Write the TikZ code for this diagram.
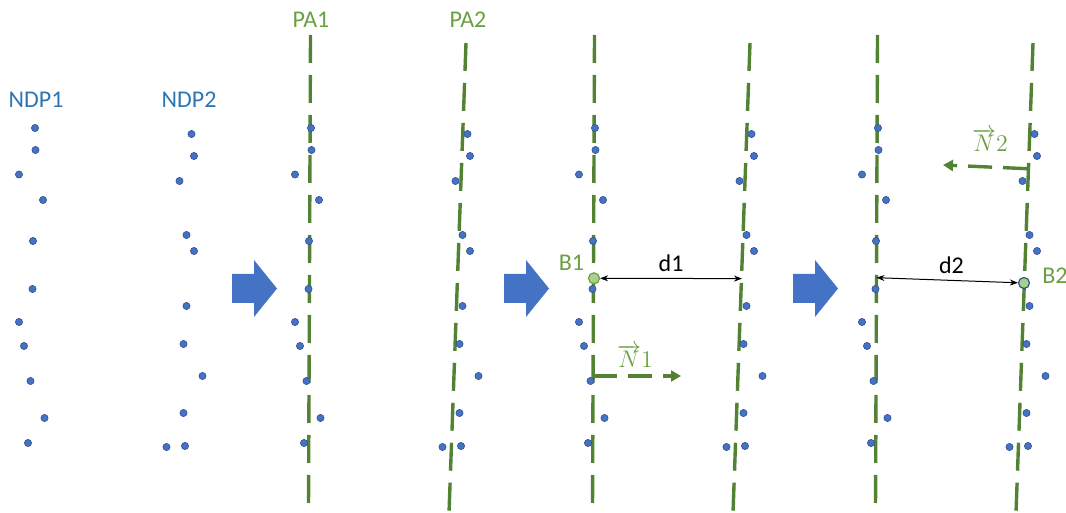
\documentclass[tikz,border=0pt]{standalone}
\usepackage{fontspec}
\setmainfont{Carlito}
\usepackage{xcolor}
\usetikzlibrary{arrows.meta,positioning,calc}

\definecolor{dotblue}{RGB}{68,114,196}
\definecolor{dotedge}{RGB}{47,82,143}
\definecolor{ndpblue}{RGB}{46,117,182}
\definecolor{pagreen}{RGB}{84,130,53}
\definecolor{lblgreen}{RGB}{106,160,66}
\definecolor{basefill}{RGB}{169,209,142}

\begin{document}
\begin{tikzpicture}[
    x=0.5pt, y=-0.5pt,
    dot/.style={circle, draw=dotedge, fill=dotblue, line width=0.3pt, inner sep=0pt, minimum size=3.6pt},
    plane/.style={pagreen, line width=1.7pt, dash pattern=on 14pt off 6pt},
    normal/.style={pagreen, line width=1.7pt, dash pattern=on 12pt off 5.5pt, -{Triangle[length=5pt,width=5.5pt]}},
    ndplabel/.style={text=ndpblue, font=\fontsize{12}{14}\selectfont},
    palabel/.style={text=lblgreen, font=\fontsize{12}{14}\selectfont},
    base/.style={circle, draw=lblgreen, fill=basefill, line width=0.6pt, inner sep=0pt, minimum size=5.5pt},
    dist/.style={{Stealth[length=4pt,width=3pt]}-{Stealth[length=4pt,width=3pt]}, line width=0.5pt},
    bigarrow/.style={fill=dotblue, draw=none},
]
    \useasboundingbox (0,0) rectangle (1066,513);

    % fitted planes
    \foreach \f/\dx in {2/276, 3/560, 4/843} {
        \coordinate (l\f top) at (34.5+\dx,35);
        \coordinate (l\f bot) at (32.5+\dx,508);
        \coordinate (r\f top) at (190+\dx,43);
        \coordinate (r\f bot) at (173+\dx,513);
        \draw[plane] (l\f top) -- (l\f bot);
        \draw[plane] (r\f top) -- (r\f bot);
    }

    % point clouds
    \foreach \f/\dx in {1/0, 2/276, 3/560, 4/843} {
        \foreach \x/\y [count=\i] in {35/128, 35.5/150, 19/174.5, 43/200, 33/241, 32.5/289,
                19/322, 24/346, 30.5/381, 44.5/418, 28/443}
            \node[dot] (a\f-\i) at (\x+\dx,\y) {};
        \foreach \x/\y [count=\i] in {191.5/134, 194/156, 179.5/181, 186.5/235, 194/251, 186.5/306,
                183.5/344, 202.5/376, 183.5/413, 185/446, 166.5/447}
            \node[dot] (b\f-\i) at (\x+\dx,\y) {};
    }

    % step arrows
    \foreach \bx in {232, 504, 793}
        \fill[bigarrow] (\bx,274) -- (\bx+22,274) -- (\bx+22,260) -- (\bx+45,288.5)
            -- (\bx+22,317) -- (\bx+22,303) -- (\bx,303) -- cycle;

    \node[ndplabel] (ndp1) at (36,100) {NDP1};
    \node[ndplabel] (ndp2) at (189,100) {NDP2};
    \node[palabel] (pa1) at (311,20) {PA1};
    \node[palabel] (pa2) at (468,20) {PA2};

    % distance d1 and normal N1
    \coordinate (d1end) at (742,278.6);
    \coordinate (n1start) at (592.5,376);
    \coordinate (n1end) at (681,376);
    \draw[normal] (n1start) -- (n1end);
    \node[palabel] (n1lbl) at (635,356) {$\overrightarrow{N}1$};
    \node[base] (b1) at (594,278.3) {};
    \node[palabel] (b1lbl) at (571.5,263) {B1};
    \draw[dist] (b1) -- node[midway, above, font=\fontsize{12}{14}\selectfont] (d1lbl) {d1} (d1end);

    % distance d2 and normal N2
    \coordinate (d2start) at (876.5,277.7);
    \coordinate (n2start) at (1027,168.7);
    \coordinate (n2end) at (943,165);
    \draw[normal] (n2start) -- (n2end);
    \node[palabel] (n2lbl) at (990,140) {$\overrightarrow{N}2$};
    \node[base, draw=dotedge] (b2) at (1024,283) {};
    \node[palabel] (b2lbl) at (1055,276) {B2};
    \draw[dist] (d2start) -- node[pos=0.53, above, font=\fontsize{12}{14}\selectfont] (d2lbl) {d2} (b2);
\end{tikzpicture}
\end{document}
